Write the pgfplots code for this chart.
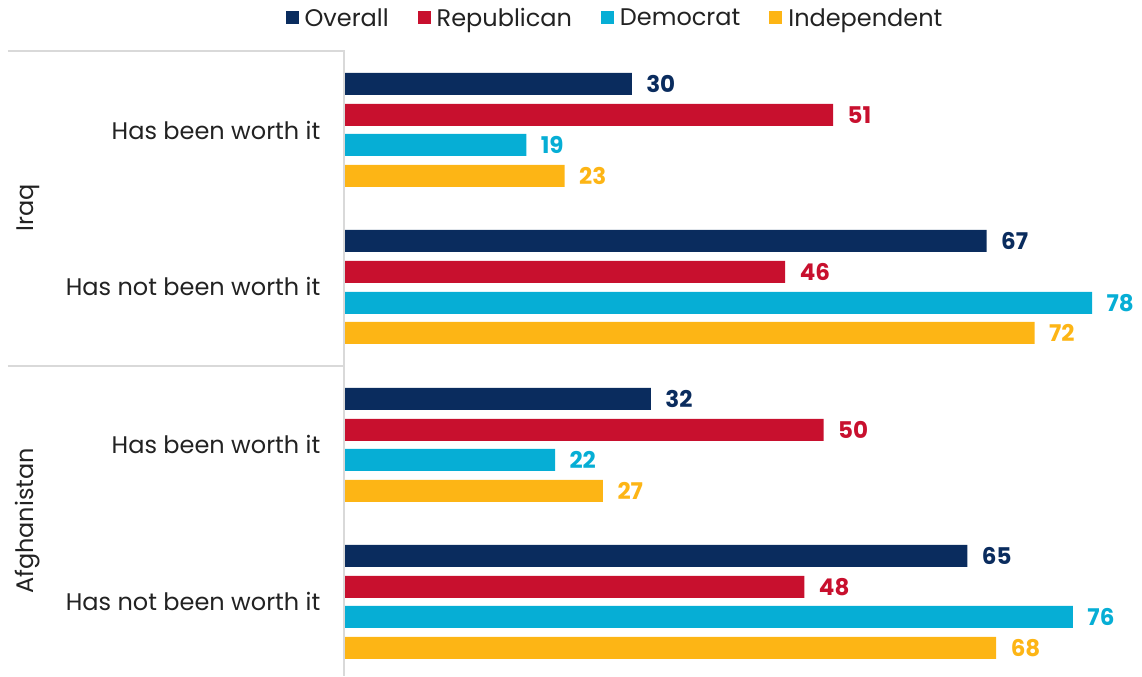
\documentclass[border=0pt]{standalone}
\usepackage{fontspec}
\setmainfont{Poppins}
\usepackage{pgfplots}
\pgfplotsset{compat=1.18}
\definecolor{cOv}{HTML}{0A2C5E}
\definecolor{cRe}{HTML}{C8102E}
\definecolor{cDe}{HTML}{06AED5}
\definecolor{cIn}{HTML}{FDB515}
\definecolor{cTx}{HTML}{222222}
\definecolor{cLn}{HTML}{D9D9D9}
\begin{document}
\begin{tikzpicture}
\begin{axis}[
  scale only axis, width=1142pt, height=676pt,
  xmin=-35.87, xmax=83.2, ymin=-676, ymax=0,
  hide axis, clip=false,
  xbar, bar width=22pt, bar shift=0pt,
  point meta=x,
  /pgf/number format/assume math mode=true,
  nodes near coords,
  nodes near coords style={anchor=west, xshift=11pt, font=\fontsize{23}{27}\selectfont\bfseries},
  legend style={at={(rel axis cs:0.5385,0.9734)}, anchor=center, draw=none, fill=none,
    font=\fontsize{24}{28}\selectfont\color{cTx}, legend columns=-1,
    /tikz/every odd column/.append style={column sep=4pt},
    /tikz/every even column/.append style={column sep=27pt}},
  legend image code/.code={\fill[#1] (0pt,-6.5pt) rectangle (13pt,6.5pt);},
]
\path (axis cs:-35.87,-676) rectangle (axis cs:83.2,0);
\addplot[fill=cOv, draw=none, every node near coord/.append style={text=cOv}] coordinates {(30,-84) (67,-241) (32,-399) (65,-556)};
\addplot[fill=cRe, draw=none, every node near coord/.append style={text=cRe}] coordinates {(51,-115) (46,-272) (50,-430) (48,-587)};
\addplot[fill=cDe, draw=none, every node near coord/.append style={text=cDe}] coordinates {(19,-145) (78,-303) (22,-460) (76,-617)};
\addplot[fill=cIn, draw=none, every node near coord/.append style={text=cIn}] coordinates {(23,-176) (72,-333) (27,-491) (68,-648)};
\legend{Overall, Republican, Democrat, Independent}
\draw[cLn, line width=1.5pt] (axis cs:-35.04,-51) -- (axis cs:0,-51) -- (axis cs:0,-676);
\draw[cLn, line width=1.5pt] (axis cs:-35.04,-366) -- (axis cs:0,-366);
\begin{scope}[every node/.style={font=\fontsize{24}{28}\selectfont, text=cTx}]
\node[anchor=east] at (axis cs:-2.1,-130) {Has been worth it};
\node[anchor=east] at (axis cs:-2.1,-287) {Has not been worth it};
\node[anchor=east] at (axis cs:-2.1,-445) {Has been worth it};
\node[anchor=east] at (axis cs:-2.1,-602) {Has not been worth it};
\node[rotate=90] at (axis cs:-32.95,-208) {Iraq};
\node[rotate=90] at (axis cs:-32.95,-521) {Afghanistan};
\end{scope}
\end{axis}
\end{tikzpicture}
\end{document}
